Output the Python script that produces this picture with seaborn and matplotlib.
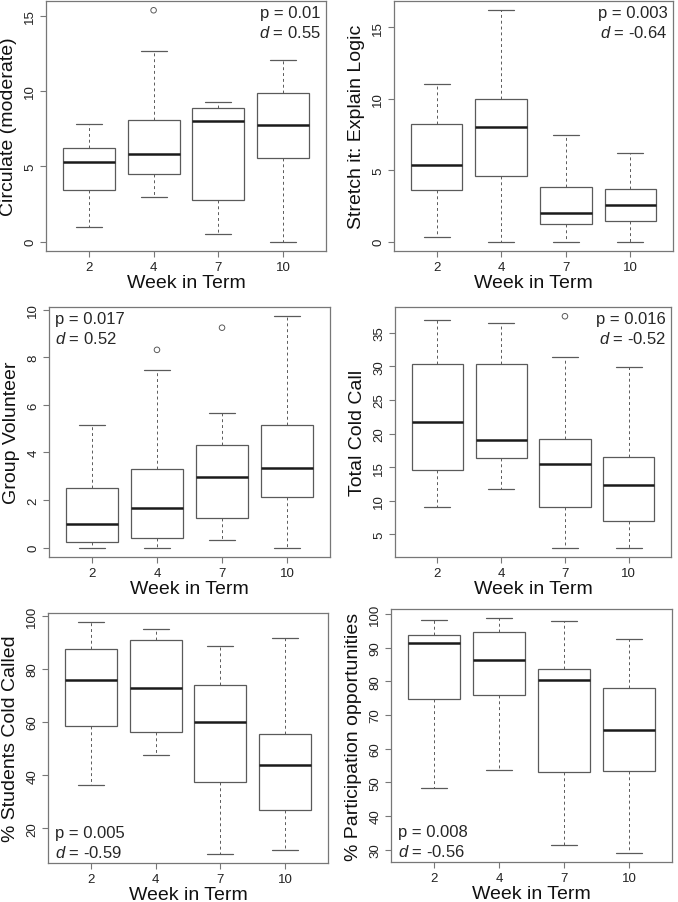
import numpy as np
import pandas as pd
import matplotlib
matplotlib.use("Agg")
import matplotlib.pyplot as plt
import seaborn as sns

weeks = ["2", "4", "7", "10"]

# five-number summaries per week: lower whisker, Q1, median, Q3, upper whisker
circulate = [[0.99, 3.42, 5.32, 6.24, 7.83],
             [2.98, 4.52, 5.82, 8.07, 12.68],
             [0.49, 2.74, 8.01, 8.87, 9.27],
             [0.00, 5.58, 7.74, 9.86, 12.02]]
circulate_out_weeks = ["4"]
circulate_out_vals = [15.35]

stretch = [[0.30, 3.65, 5.35, 8.23, 11.00],
           [0.00, 4.58, 8.00, 10.00, 16.19],
           [0.00, 1.23, 2.00, 3.84, 7.49],
           [0.00, 1.42, 2.56, 3.70, 6.19]]

volunteer = [[0.00, 0.25, 1.01, 2.49, 5.15],
             [0.00, 0.42, 1.66, 3.31, 7.48],
             [0.32, 1.26, 2.99, 4.31, 5.66],
             [0.00, 2.14, 3.33, 5.17, 9.72]]
volunteer_out_weeks = ["4", "7"]
volunteer_out_vals = [8.31, 9.24]

cold_call = [[9.11, 14.65, 21.68, 30.30, 36.83],
             [11.68, 16.39, 19.01, 30.30, 36.44],
             [3.02, 9.01, 15.45, 19.16, 31.34],
             [3.02, 7.03, 12.28, 16.58, 29.95]]
cold_call_out_weeks = ["7"]
cold_call_out_vals = [37.43]

pct_called = [[36.4, 58.5, 75.9, 87.4, 97.5],
              [47.75, 56.4, 72.9, 91.0, 94.9],
              [10.5, 37.4, 60.1, 73.9, 88.6],
              [11.75, 27.0, 43.75, 55.4, 91.4]]

pct_particip = [[48.3, 74.6, 91.5, 93.9, 98.3],
                [53.7, 75.9, 86.2, 94.7, 98.7],
                [31.5, 53.1, 80.5, 83.6, 97.9],
                [29.1, 53.5, 65.5, 77.9, 92.7]]

ylabels = ["Circulate (moderate)", "Stretch it: Explain Logic", "Group Volunteer",
           "Total Cold Call", "% Students Cold Called", "% Participation opportunities"]
yticks = [[0, 5, 10, 15], [0, 5, 10, 15], [0, 2, 4, 6, 8, 10],
          [5, 10, 15, 20, 25, 30, 35], [20, 40, 60, 80, 100],
          [30, 40, 50, 60, 70, 80, 90, 100]]
p_values = ["0.01", "0.003", "0.017", "0.016", "0.005", "0.008"]
d_values = ["0.55", "-0.64", "0.52", "-0.52", "-0.59", "-0.56"]

sns.set_theme(style="ticks")
plt.rcParams["font.family"] = ["Liberation Sans", "DejaVu Sans"]
plt.rcParams["mathtext.fontset"] = "custom"
plt.rcParams["mathtext.rm"] = "Liberation Sans"
plt.rcParams["mathtext.it"] = "Liberation Sans:italic"

line_grey = "#5a5a5a"
frame_grey = "#777777"

W, H = 678, 903
# axes boxes in pixels: left, right, top, bottom
rects = [(46, 326, 2, 252), (394, 673, 2, 252),
         (49, 330, 308, 558), (395, 671, 308, 558),
         (48, 328, 614, 864), (391, 672, 610, 863)]
text_spots = ["ur", "ur", "ul", "ur", "ll", "ll"]

fig = plt.figure(figsize=(W / 100, H / 100), dpi=100)


def draw_panel(ax, boxes, ylabel, ticks, out_weeks, out_vals, p, d, spot):
    df = pd.DataFrame({"week": np.repeat(weeks, 5), "value": np.ravel(boxes)})
    sns.boxplot(data=df, x="week", y="value", order=weeks, ax=ax,
                color="white", linecolor=line_grey, linewidth=0.9,
                width=0.8, whis=(0, 100), fliersize=0,
                whiskerprops=dict(linestyle=(0, (3, 3)), linewidth=0.7),
                medianprops=dict(color="#1a1a1a", linewidth=1.8))
    if out_weeks:
        sns.stripplot(x=out_weeks, y=out_vals, order=weeks, jitter=False, ax=ax,
                      color=line_grey, facecolor="none", edgecolor=line_grey,
                      linewidth=0.7, size=4)

    allv = np.concatenate([np.ravel(boxes), np.array(out_vals, dtype=float)])
    lo, hi = allv.min(), allv.max()
    pad = 0.04 * (hi - lo)
    ax.set_ylim(lo - pad, hi + pad)
    ax.set_xlim(-0.66, 3.66)
    ax.set_yticks(ticks)
    ax.set_yticklabels([str(t) for t in ticks], rotation=90, va="center")
    ax.tick_params(axis="both", length=4, width=0.8, color=frame_grey,
                   labelsize=9.5, pad=3, labelcolor="#222222")
    ax.tick_params(axis="x", pad=3)
    for s in ax.spines.values():
        s.set_visible(True)
        s.set_color(frame_grey)
        s.set_linewidth(0.9)
    ax.set_xlabel("Week in Term", fontsize=14, labelpad=1, color="#111111")
    ax.set_ylabel(ylabel, fontsize=14, labelpad=5, color="#111111")

    txt = f"p = {p}\n$d$ = {d}"
    if spot == "ur":
        ax.text(0.982, 0.985, txt, transform=ax.transAxes, ha="right", va="top",
                fontsize=12, linespacing=1.3)
    elif spot == "ul":
        ax.text(0.022, 0.985, txt, transform=ax.transAxes, ha="left", va="top",
                fontsize=12, linespacing=1.3)
    else:
        ax.text(0.025, 0.012, txt, transform=ax.transAxes, ha="left", va="bottom",
                fontsize=12, linespacing=1.3)


panels = [(circulate, circulate_out_weeks, circulate_out_vals),
          (stretch, [], []),
          (volunteer, volunteer_out_weeks, volunteer_out_vals),
          (cold_call, cold_call_out_weeks, cold_call_out_vals),
          (pct_called, [], []),
          (pct_particip, [], [])]

for i, (boxes, ow, ov) in enumerate(panels):
    l, r, t, b = rects[i]
    ax = fig.add_axes([l / W, 1 - b / H, (r - l) / W, (b - t) / H])
    draw_panel(ax, boxes, ylabels[i], yticks[i], ow, ov,
               p_values[i], d_values[i], text_spots[i])

fig.savefig("out.png", dpi=100)
